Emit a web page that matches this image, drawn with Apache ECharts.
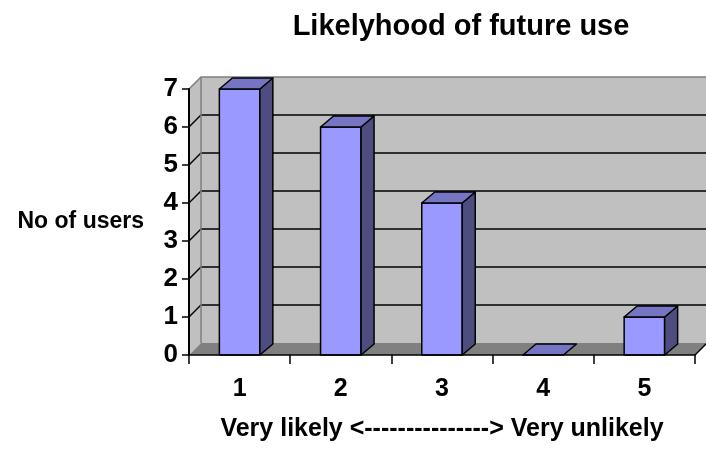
<!DOCTYPE html>
<html>
<head>
<meta charset="utf-8">
<title>Likelyhood of future use</title>
<script src="https://cdn.jsdelivr.net/npm/echarts@6/dist/echarts.min.js"></script>
<style>
  html, body { margin: 0; padding: 0; background: #ffffff; }
  #chart { width: 706px; height: 449px; }
</style>
</head>
<body>
<div id="chart"></div>
<script>
// Survey answers: 1 = very likely ... 5 = very unlikely
const categories = ['1', '2', '3', '4', '5'];
const users = [7, 6, 4, 0, 1];
const yTicks = [0, 1, 2, 3, 4, 5, 6, 7];

const FONT = '"Liberation Sans", Arial, Helvetica, sans-serif';
// oblique projection of the depth axis, in pixels
const WALL_DX = 12, WALL_DY = -12;
const BAR_DX = 13, BAR_DY = -11;
const BAR_FRAC = 0.4;

const chart = echarts.init(document.getElementById('chart'), null, { renderer: 'canvas' });

// back wall, side wall, floor and gridlines of the 3-D box
function renderWalls(params, api) {
  const cs = params.coordSys;
  const x0 = cs.x, x1 = cs.x + cs.width;
  const yBase = api.coord([0, yTicks[0]])[1];
  const yTop = api.coord([0, yTicks[yTicks.length - 1]])[1];
  const bx0 = x0 + WALL_DX, bx1 = x1 + WALL_DX + 30;
  const children = [];
  // back wall
  children.push({ type: 'polygon', shape: { points: [[bx0, yTop + WALL_DY], [bx1, yTop + WALL_DY], [bx1, yBase + WALL_DY], [bx0, yBase + WALL_DY]] },
    style: { fill: '#c0c0c0' } });
  // side wall
  children.push({ type: 'polygon', shape: { points: [[x0, yBase], [x0, yTop], [bx0, yTop + WALL_DY], [bx0, yBase + WALL_DY]] },
    style: { fill: '#c0c0c0' } });
  // gridlines
  yTicks.slice(1, -1).forEach(function (t) {
    const y = api.coord([0, t])[1];
    children.push({ type: 'polyline', shape: { points: [[x0, y], [bx0, y + WALL_DY], [bx1, y + WALL_DY]] },
      style: { stroke: '#000', lineWidth: 1.4, fill: null } });
  });
  // wall edges
  children.push({ type: 'polyline', shape: { points: [[x0, yTop], [bx0, yTop + WALL_DY], [bx1, yTop + WALL_DY]] },
    style: { stroke: '#808080', lineWidth: 1.5, fill: null } });
  children.push({ type: 'line', shape: { x1: bx0, y1: yTop + WALL_DY, x2: bx0, y2: yBase + WALL_DY },
    style: { stroke: '#808080', lineWidth: 1.5 } });
  // floor
  children.push({ type: 'polygon', shape: { points: [[x0, yBase], [bx0, yBase + WALL_DY], [x1 + WALL_DX, yBase + WALL_DY], [x1, yBase]] },
    style: { fill: '#808080' } });
  children.push({ type: 'line', shape: { x1: x1, y1: yBase, x2: x1 + WALL_DX, y2: yBase + WALL_DY },
    style: { stroke: '#000', lineWidth: 1.5 } });
  return { type: 'group', children: children };
}

// one 3-D column: front face, top and right side
function renderBar(params, api) {
  const i = api.value(0), v = api.value(1);
  const top = api.coord([i, v]);
  const yb = api.coord([i, 0])[1];
  const w = api.size([1, 0])[0] * BAR_FRAC;
  const xl = top[0] - w / 2, xr = top[0] + w / 2, yt = top[1];
  const edge = { stroke: '#000', lineWidth: 1.5, lineJoin: 'round' };
  const children = [];
  if (yb - yt > 0.5) {
    children.push({ type: 'rect', shape: { x: xl, y: yt, width: w, height: yb - yt },
      style: Object.assign({ fill: '#9999ff' }, edge) });
    children.push({ type: 'polygon', shape: { points: [[xr, yt], [xr + BAR_DX, yt + BAR_DY], [xr + BAR_DX, yb + BAR_DY], [xr, yb]] },
      style: Object.assign({ fill: '#4d4d80' }, edge) });
  }
  children.push({ type: 'polygon', shape: { points: [[xl, yt], [xr, yt], [xr + BAR_DX, yt + BAR_DY], [xl + BAR_DX, yt + BAR_DY]] },
    style: Object.assign({ fill: '#7575c4' }, edge) });
  return { type: 'group', children: children };
}

const option = {
  backgroundColor: '#ffffff',
  animation: false,
  title: {
    text: 'Likelyhood of future use',
    left: 456,
    top: 7,
    textAlign: 'center',
    textStyle: { fontFamily: FONT, fontSize: 29, fontWeight: 'bold', color: '#000' }
  },
  grid: { left: 189, right: 11, top: 89, bottom: 94, containLabel: false },
  xAxis: {
    type: 'category',
    data: categories,
    z: 10,
    axisLine: { show: true, lineStyle: { color: '#000', width: 1.5 } },
    axisTick: { show: true, length: 9, lineStyle: { color: '#000', width: 1.5 } },
    axisLabel: { fontFamily: FONT, fontSize: 25, fontWeight: 'bold', color: '#000', margin: 22 },
    splitLine: { show: false },
    name: 'Very likely <---------------> Very unlikely',
    nameLocation: 'middle',
    nameGap: 62,
    nameTextStyle: { fontFamily: FONT, fontSize: 25, fontWeight: 'bold', color: '#000' }
  },
  yAxis: {
    type: 'value',
    min: yTicks[0],
    max: yTicks[yTicks.length - 1],
    interval: 1,
    z: 10,
    axisLine: { show: true, lineStyle: { color: '#000', width: 2 } },
    axisTick: { show: true, length: 7, lineStyle: { color: '#000', width: 1.5 } },
    axisLabel: { fontFamily: FONT, fontSize: 26, fontWeight: 'bold', color: '#000', margin: 11 },
    splitLine: { show: false },
    name: 'No of users',
    nameLocation: 'middle',
    nameRotate: 0,
    nameGap: 45,
    nameTextStyle: { fontFamily: FONT, fontSize: 23, fontWeight: 'bold', color: '#000' }
  },
  series: [
    {
      type: 'custom',
      name: 'walls',
      silent: true,
      clip: false,
      z: 1,
      renderItem: renderWalls,
      data: [[0, 0]],
      encode: { x: 0, y: 1 }
    },
    {
      type: 'custom',
      name: 'No of users',
      clip: false,
      z: 2,
      renderItem: renderBar,
      data: users.map(function (v, i) { return [i, v]; }),
      encode: { x: 0, y: 1 }
    }
  ]
};

chart.setOption(option);
</script>
</body>
</html>
